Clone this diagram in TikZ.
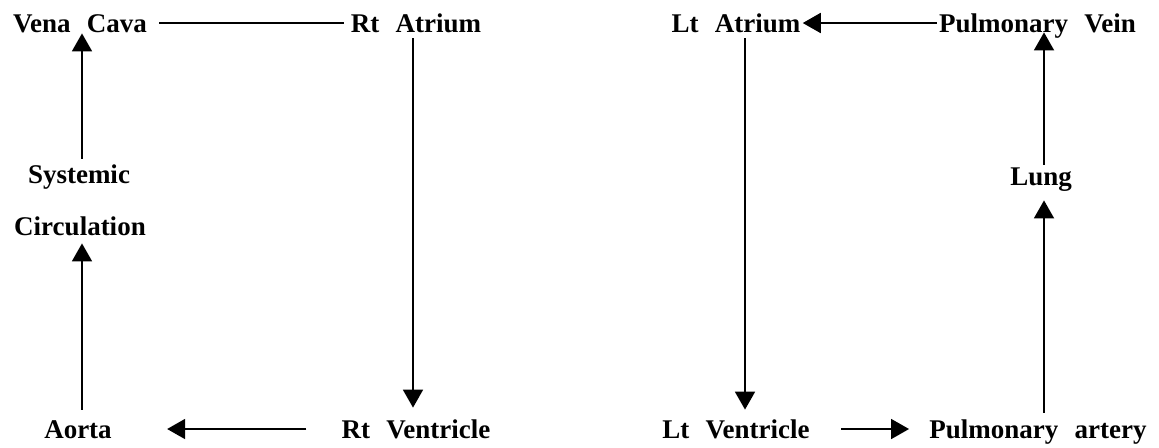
\documentclass[tikz,border=0pt]{standalone}
\usepackage{fontspec}
\setmainfont{Liberation Serif}[WordSpace=2.4]
\usetikzlibrary{arrows.meta}
\begin{document}
\begin{tikzpicture}[x=0.5pt, y=-0.5pt,
    organ/.style={inner sep=0pt, anchor=base, text height=9pt, text depth=0pt, font=\fontsize{13.5}{16}\selectfont\bfseries},
    flow/.style={-{Triangle[length=9pt, width=10pt]}, line width=0.9pt}]
    \useasboundingbox (0,0) rectangle (1159,447);

    % Right heart side
    \node (vena) [organ] at (80,32) {Vena Cava};
    \node (rtatr) [organ] at (416,32) {Rt Atrium};
    \node (sys) [organ] at (79,183) {Systemic};
    \node (circ) [organ] at (80,235) {Circulation};
    \node (aorta) [organ] at (78,438) {Aorta};
    \node (rtven) [organ] at (416,438) {Rt Ventricle};

    % Left heart side
    \node (ltatr) [organ] at (736,32) {Lt Atrium};
    \node (pvein) [organ] at (1037.5,32) {Pulmonary Vein};
    \node (lung) [organ] at (1041,185) {Lung};
    \node (ltven) [organ] at (736,438) {Lt Ventricle};
    \node (part) [organ] at (1038,438) {Pulmonary artery};

    % Arrows
    \draw[line width=0.9pt, shorten <=6pt, shorten >=3.5pt] (vena.east) -- (rtatr.west);
    \draw[flow, shorten <=3pt, shorten >=6pt] ([xshift=-1.5pt]rtatr.south) -- ([xshift=-1.5pt]rtatr.south |- rtven.north);
    \draw[flow, shorten <=17.5pt, shorten >=27.5pt] (rtven.west) -- (aorta.east);
    \draw[flow, shorten <=5pt, shorten >=4pt] ([xshift=2pt]aorta.north) -- ([xshift=2pt]aorta.north |- circ.south);
    \draw[flow, shorten <=3pt, shorten >=0.5pt] ([xshift=1.5pt]sys.north) -- ([xshift=1.5pt]sys.north |- vena.south);
    \draw[flow, shorten <=3pt, shorten >=5pt] ([xshift=4.5pt]ltatr.south) -- ([xshift=4.5pt]ltatr.south |- ltven.north);
    \draw[flow, shorten <=15.5pt, shorten >=10pt] (ltven.east) -- (part.west);
    \draw[flow, shorten <=3.5pt, shorten >=7.5pt] ([xshift=3pt]part.north) -- ([xshift=3pt]part.north |- lung.south);
    \draw[flow, shorten <=1pt] ([xshift=1.5pt]lung.north) -- ([xshift=1.5pt]lung.north |- pvein.south);
    \draw[flow, shorten <=1pt, shorten >=1pt] (pvein.west) -- (ltatr.east);
\end{tikzpicture}
\end{document}
